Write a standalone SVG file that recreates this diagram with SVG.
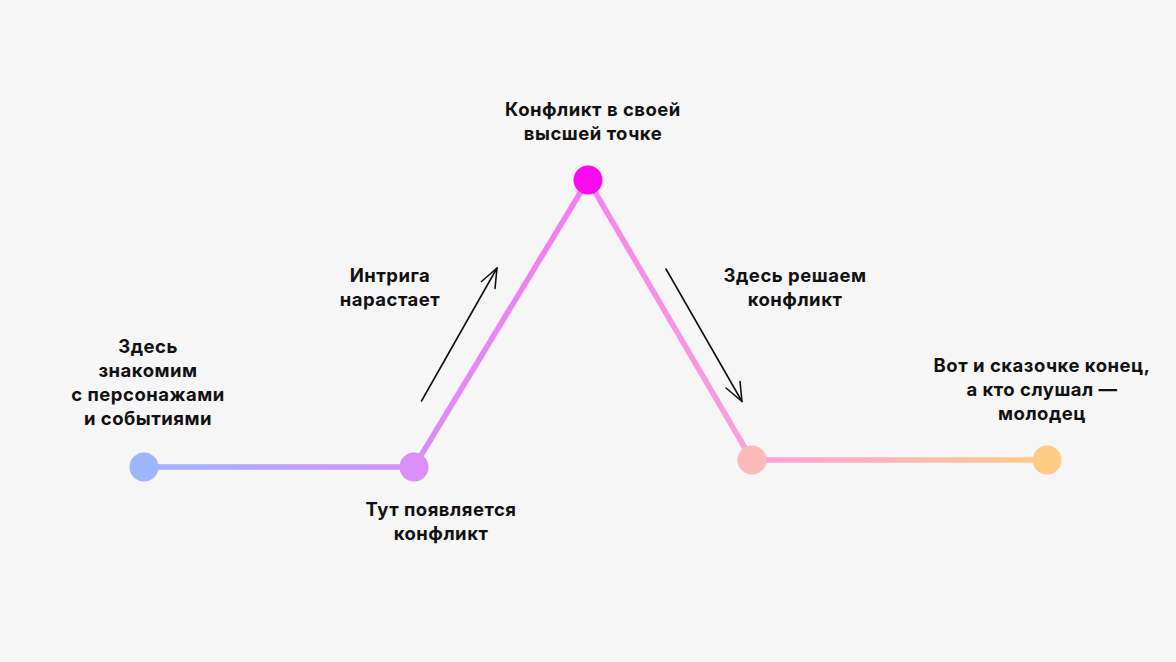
<svg xmlns="http://www.w3.org/2000/svg" width="1176" height="662" viewBox="0 0 1176 662">
<style>
.t{font-family:Inter,"Noto Sans","Liberation Sans",sans-serif;font-size:18.5px;font-weight:700;letter-spacing:0.5px;fill:#111;text-anchor:middle}
.seg{stroke-width:5.5;fill:none;stroke-linecap:round}
.arr{stroke:#111;stroke-width:1.6;fill:none;stroke-linecap:round;stroke-linejoin:round}
</style>
<defs>
<linearGradient id="g1" gradientUnits="userSpaceOnUse" x1="144" y1="467" x2="414" y2="467"><stop offset="0" stop-color="#9DB5FC"/><stop offset="1" stop-color="#DA8FF6"/></linearGradient>
<linearGradient id="g2" gradientUnits="userSpaceOnUse" x1="414" y1="467" x2="588" y2="180"><stop offset="0" stop-color="#DC8EF6"/><stop offset="1" stop-color="#F87CF2"/></linearGradient>
<linearGradient id="g3" gradientUnits="userSpaceOnUse" x1="588" y1="180" x2="752" y2="460"><stop offset="0" stop-color="#F883EE"/><stop offset="1" stop-color="#F9A2DA"/></linearGradient>
<linearGradient id="g4" gradientUnits="userSpaceOnUse" x1="752" y1="460" x2="1047" y2="460"><stop offset="0" stop-color="#F9A0DC"/><stop offset="1" stop-color="#FFCC88"/></linearGradient>
</defs>
<rect width="1176" height="662" fill="#F6F6F6"/>
<g id="connectors">
<line class="seg" x1="144" y1="467" x2="414" y2="467" stroke="url(#g1)"/>
<line class="seg" x1="414" y1="467" x2="588" y2="180" stroke="url(#g2)"/>
<line class="seg" x1="588" y1="180" x2="752" y2="460" stroke="url(#g3)"/>
<line class="seg" x1="752" y1="460" x2="1047" y2="460" stroke="url(#g4)"/>
<g id="arrow-up"><line class="arr" x1="421.5" y1="401" x2="497" y2="268"/><polyline class="arr" points="481.5,281.5 497,268 495,288.5"/></g>
<g id="arrow-down"><line class="arr" x1="666" y1="269" x2="742" y2="401.5"/><polyline class="arr" points="726,388 742,401.5 740,381.5"/></g>
</g>
<g id="node-exposition">
<circle cx="144" cy="467" r="14.5" fill="#9DB5FC"/>
<text class="t" x="148" y="353">Здесь</text>
<text class="t" x="148" y="377">знакомим</text>
<text class="t" x="148" y="401">с персонажами</text>
<text class="t" x="148" y="425">и событиями</text>
</g>
<g id="node-inciting">
<circle cx="414" cy="467" r="14.5" fill="#DA8FF6"/>
<text class="t" x="441" y="516">Тут появляется</text>
<text class="t" x="441" y="540">конфликт</text>
</g>
<g id="node-rising">
<text class="t" x="390" y="282">Интрига</text>
<text class="t" x="390" y="306">нарастает</text>
</g>
<g id="node-climax">
<circle cx="588" cy="180" r="14.5" fill="#FA0AEE"/>
<text class="t" x="593" y="116">Конфликт в своей</text>
<text class="t" x="593" y="140">высшей точке</text>
</g>
<g id="node-falling">
<text class="t" x="795" y="282">Здесь решаем</text>
<text class="t" x="795" y="306">конфликт</text>
</g>
<g id="node-resolution">
<circle cx="752" cy="460" r="14.5" fill="#FBBAB8"/>
</g>
<g id="node-end">
<circle cx="1047" cy="460" r="14.5" fill="#FFCC85"/>
<text class="t" x="1042" y="372">Вот и сказочке конец,</text>
<text class="t" x="1042" y="396">а кто слушал —</text>
<text class="t" x="1042" y="420">молодец</text>
</g>
</svg>
